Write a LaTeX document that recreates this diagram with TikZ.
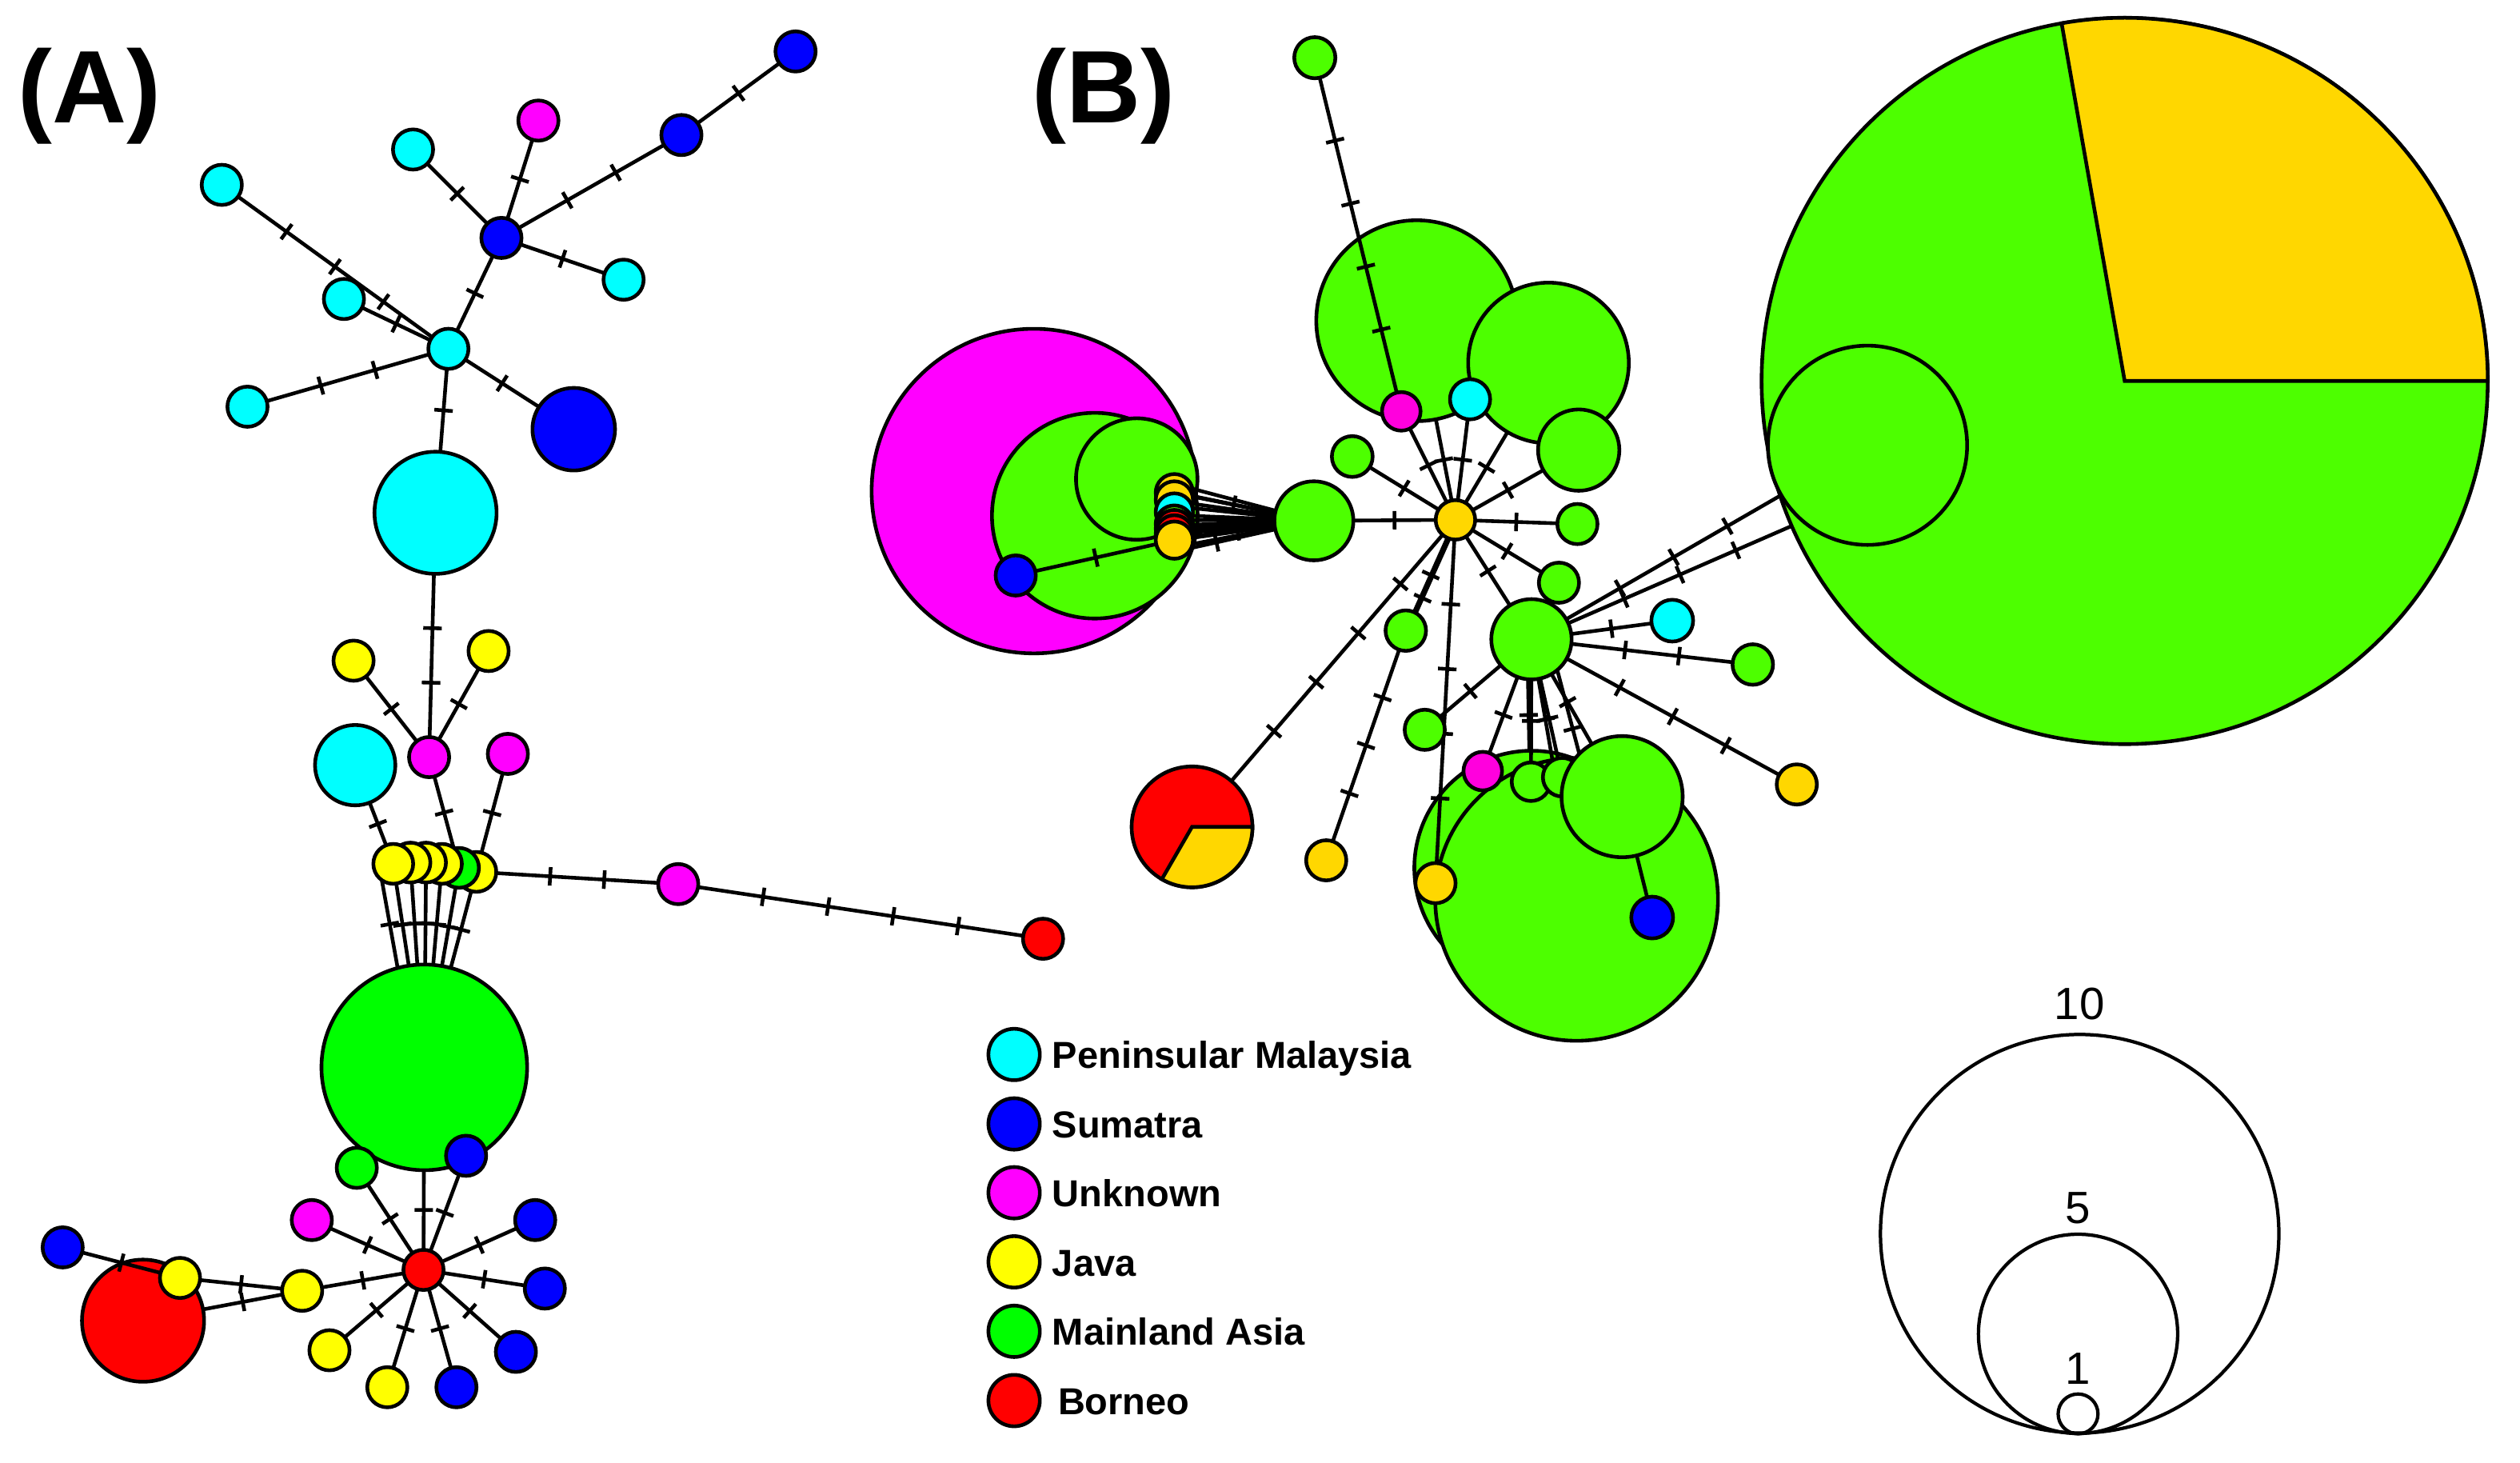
\documentclass[tikz,border=0pt]{standalone}
\usepackage{fontspec}
\setmainfont{Liberation Sans}
\usetikzlibrary{decorations.markings}

% region colours
\definecolor{pm}{HTML}{00FFFF}
\definecolor{sum}{HTML}{0000FF}
\definecolor{unk}{HTML}{FF00FF}
\definecolor{jav}{HTML}{FFFF00}
\definecolor{mla}{HTML}{00FF00}
\definecolor{bor}{HTML}{FF0000}
\definecolor{mlaB}{HTML}{4DFF00}
\definecolor{javB}{HTML}{FFD700}
\definecolor{unkB}{HTML}{FF00DD}

\pgfdeclarelayer{bg}
\pgfdeclarelayer{edges}
\pgfsetlayers{bg,edges,main}

\newcommand{\mtick}{\draw[line width=1.3pt] (0,-0.115cm) -- (0,0.115cm);}

\tikzset{
  hap/.style={circle, draw=black, line width=1.3pt, inner sep=0pt, outer sep=0pt, minimum size=#1*0.04cm},
  edge/.style={line width=1.3pt},
  onat/.style={postaction={decorate, decoration={markings, mark=at position #1 with {\mtick}}}},
  one/.style={onat=0.5},
  two/.style={postaction={decorate, decoration={markings,
      mark=at position 0.333 with {\mtick}, mark=at position 0.667 with {\mtick}}}},
  three/.style={postaction={decorate, decoration={markings,
      mark=at position 0.25 with {\mtick}, mark=at position 0.5 with {\mtick},
      mark=at position 0.75 with {\mtick}}}},
  four/.style={postaction={decorate, decoration={markings,
      mark=at position 0.2 with {\mtick}, mark=at position 0.4 with {\mtick},
      mark=at position 0.6 with {\mtick}, mark=at position 0.8 with {\mtick}}}},
  panel/.style={anchor=base west, inner sep=0pt, font=\fontsize{36.5}{40}\selectfont\bfseries},
  legtext/.style={anchor=base west, inner sep=0pt, font=\fontsize{13.3}{16}\selectfont\bfseries},
  scaletext/.style={anchor=base, inner sep=0pt, font=\fontsize{16}{19}\selectfont},
}

\begin{document}
\begin{tikzpicture}[x=0.02cm, y=-0.02cm]
    \useasboundingbox (0,0) rectangle (1568,910);

    % ---------------- Panel A ----------------
    \node[panel] (labA) at (11,76.2) {(A)};

    \begin{pgfonlayer}{bg}
        \node[hap=25.7, fill=sum] (bA3) at (357,267) {};
        \node[hap=38, fill=pm] (cBig) at (271,319) {};
        \node[hap=25, fill=pm] (cMed) at (221,476) {};
        \node[hap=64, fill=mla] (gBig) at (264,664) {};
        \node[hap=38, fill=bor] (rBig) at (89,821.6) {};
    \end{pgfonlayer}

    \node[hap=12.5, fill=sum] (bA1) at (495,32) {};
    \node[hap=12.5, fill=sum] (bA2) at (424,84) {};
    \node[hap=12.5, fill=unk] (mA1) at (335,75) {};
    \node[hap=12.5, fill=pm] (cA1) at (257,93) {};
    \node[hap=12.5, fill=pm] (cA2) at (138,115) {};
    \node[hap=12.5, fill=sum] (bHub) at (312,148) {};
    \node[hap=12.5, fill=pm] (cA3) at (388,174) {};
    \node[hap=12.5, fill=pm] (cA4) at (214,186) {};
    \node[hap=12.5, fill=pm] (cHub) at (279,217) {};
    \node[hap=12.5, fill=pm] (cA5) at (154,253) {};
    \node[hap=12.5, fill=jav] (yA1) at (220,411) {};
    \node[hap=12.5, fill=jav] (yA2) at (304,405) {};
    \node[hap=12.5, fill=unk] (mA2) at (267,471) {};
    \node[hap=12.5, fill=unk] (mA3) at (316,469) {};

    % overlapping row, drawn right to left
    \node[hap=12.4, fill=jav] (c6) at (296.4,542.4) {};
    \node[hap=12.4, fill=mla] (c5) at (285.6,539.9) {};
    \node[hap=12.4, fill=jav] (c4) at (275,537.4) {};
    \node[hap=12.4, fill=jav] (c3) at (265.1,536.6) {};
    \node[hap=12.4, fill=jav] (c2) at (255.4,536.6) {};
    \node[hap=12.4, fill=jav] (c1) at (244.7,537.4) {};

    \node[hap=12.5, fill=unk] (mA4) at (422,550) {};
    \node[hap=12.5, fill=bor] (rA1) at (649,584) {};
    \node[hap=12.5, fill=mla] (gA1) at (222,726.5) {};
    \node[hap=12.5, fill=sum] (bA4) at (290,719) {};
    \node[hap=12.5, fill=bor] (rHub) at (263.5,790) {};
    \node[hap=12.5, fill=unk] (mA5) at (194,759) {};
    \node[hap=12.5, fill=sum] (bA5) at (333,759) {};
    \node[hap=12.5, fill=sum] (bA6) at (339,801.6) {};
    \node[hap=12.5, fill=sum] (bA7) at (321,841) {};
    \node[hap=12.5, fill=sum] (bA8) at (284,863) {};
    \node[hap=12.5, fill=jav] (yA3) at (241,863) {};
    \node[hap=12.5, fill=jav] (yA4) at (205,840) {};
    \node[hap=12.5, fill=jav] (yA5) at (188,803) {};
    \node[hap=12.5, fill=jav] (yA6) at (112,795) {};
    \node[hap=12.5, fill=sum] (bA9) at (39,776) {};

    \begin{pgfonlayer}{edges}
        \draw[edge, one] (bA1) -- (bA2);
        \draw[edge, two] (bA2) -- (bHub);
        \draw[edge, one] (mA1) -- (bHub);
        \draw[edge, one] (cA1) -- (bHub);
        \draw[edge, one] (cA3) -- (bHub);
        \draw[edge, one] (bHub) -- (cHub);
        \draw[edge, three] (cA2) -- (cHub);
        \draw[edge, one] (cA4) -- (cHub);
        \draw[edge, two] (cA5) -- (cHub);
        \draw[edge, one] (cHub) -- (bA3);
        \draw[edge, one] (cHub) -- (cBig);
        \draw[edge, two] (cBig) -- (mA2);
        \draw[edge, one] (yA1) -- (mA2);
        \draw[edge, one] (yA2) -- (mA2);
        \draw[edge, one] (mA2) -- (c5);
        \draw[edge, one] (mA3) -- (c6);
        \draw[edge, one] (cMed) -- (c1);
        \draw[edge, two] (c6) -- (mA4);
        \draw[edge, four] (mA4) -- (rA1);
        % row to the large Mainland Asia haplotype
        \draw[edge, one] (c1.235) -- (gBig.105);
        \foreach \c in {c1,c2,c3,c4,c5,c6}
            \draw[edge, one] (\c) -- (gBig);
        \draw[edge, one] (gBig) -- (rHub);
        \draw[edge, one] (bA4) -- (rHub);
        \draw[edge, one] (gA1) -- (rHub);
        \draw[edge, one] (mA5) -- (rHub);
        \draw[edge, one] (bA5) -- (rHub);
        \draw[edge, one] (bA6) -- (rHub);
        \draw[edge, one] (bA7) -- (rHub);
        \draw[edge, one] (bA8) -- (rHub);
        \draw[edge, one] (yA3) -- (rHub);
        \draw[edge, one] (yA4) -- (rHub);
        \draw[edge, one] (yA5) -- (rHub);
        \draw[edge, one] (yA5) -- (yA6);
        \draw[edge, one] (yA5) -- (rBig);
        \draw[edge, one] (bA9) -- (yA6);
    \end{pgfonlayer}

    % ---------------- Panel B ----------------
    \node[panel] (labB) at (642,76.2) {(B)};

    \begin{pgfonlayer}{bg}
        \node[hap=101, fill=unk] (magBig) at (643.3,305.5) {};
        \node[hap=64, fill=mlaB] (gMid) at (681.2,320.8) {};
        \node[hap=37.8, fill=mlaB] (gSm) at (707.3,298) {};
        \node[hap=62.5, fill=mlaB] (big1) at (881.5,199.5) {};
        \node[hap=50, fill=mlaB] (big2) at (963.5,225.8) {};
        \node[hap=25.3, fill=mlaB] (g982) at (982.3,280) {};
        \node[hap=73, fill=mlaB] (back) at (953,540) {};
        \node[hap=88, fill=mlaB] (front) at (981,559.5) {};
        \node[hap=12, fill=mlaB] (g952) at (952.6,486.3) {};
        \node[hap=12, fill=mlaB] (g972) at (972,483.5) {};
        \node[hap=37.7, fill=mlaB] (big1009) at (1009.3,495.6) {};
        % large pie, Mainland Asia and Java
        \node[hap=226, fill=mlaB] (bigR) at (1322,237) {};
        \draw[line width=1.3pt, fill=javB] (bigR.center) -- ++(4.52cm,0)
            arc[start angle=0, end angle=100, radius=4.52cm] -- cycle;
        \node[hap=62, fill=mlaB] (inner) at (1162,277) {};
    \end{pgfonlayer}

    \node[hap=12.8, fill=mlaB] (gTop) at (818.1,35.9) {};
    \node[hap=12, fill=unkB] (mB1) at (871.9,255.9) {};
    \node[hap=12.5, fill=pm] (cB1) at (914.7,248.4) {};
    \node[hap=12.7, fill=mlaB] (g841) at (841.4,284) {};
    \node[hap=24.6, fill=mlaB] (g817) at (817.5,324) {};
    \node[hap=12.3, fill=javB] (hub) at (905.6,323.4) {};
    \node[hap=12.5, fill=mlaB] (g981) at (981.5,326) {};
    \node[hap=12.5, fill=mlaB] (g970) at (970,362.5) {};
    \node[hap=25, fill=mlaB] (hub2) at (952.9,397.7) {};
    \node[hap=12.6, fill=mlaB] (g874) at (874.7,392.3) {};
    \node[hap=12.5, fill=mlaB] (g885) at (886.5,454) {};
    \node[hap=13, fill=pm] (cB2) at (1040.5,386.1) {};
    \node[hap=12.6, fill=mlaB] (g1090) at (1090.6,413.4) {};
    \node[hap=12.5, fill=javB] (yB1) at (1118,488) {};
    \node[hap=12, fill=unkB] (mB2) at (922.6,479.7) {};
    \node[hap=12.5, fill=javB] (yB893) at (893.2,549.4) {};
    \node[hap=13, fill=sum] (bB) at (1028,570.8) {};
    \node[hap=12.5, fill=javB] (yB825) at (825.2,535.2) {};

    % Borneo and Java pie
    \node[hap=37.6, fill=bor] (pie) at (741.7,514.4) {};
    \draw[line width=1.3pt, fill=javB] (pie.center) -- ++(0.752cm,0)
        arc[start angle=0, end angle=-120, radius=0.752cm] -- cycle;

    % stacked haplotypes inside the Unknown circle
    \node[hap=11.6, fill=javB] (chB1) at (730.7,306.5) {};
    \node[hap=11.6, fill=javB] (chB2) at (730.7,311) {};
    \node[hap=11.6, fill=pm] (chB3) at (730.7,318.5) {};
    \node[hap=11.6, fill=mlaB] (chB4) at (730.7,326) {};
    \node[hap=11.6, fill=bor] (chB5) at (730.7,328.8) {};
    \node[hap=11.6, fill=bor] (chB6) at (730.7,332.1) {};
    \node[hap=11.6, fill=javB] (chB7) at (730.7,336) {};
    \node[hap=12.5, fill=sum] (bB2) at (632,358) {};

    \begin{pgfonlayer}{edges}
        \draw[edge, four] (gTop) -- (mB1);
        \draw[edge, one] (hub) -- (mB1);
        \draw[edge, one] (hub) -- (big1);
        \draw[edge, one] (hub) -- (cB1);
        \draw[edge, one] (hub) -- (big2);
        \draw[edge, one] (hub) -- (g982);
        \draw[edge, one] (hub) -- (g841);
        \draw[edge, one] (hub) -- (g817);
        \draw[edge, one] (hub) -- (g981);
        \draw[edge, one] (hub) -- (g970);
        \draw[edge, one] (hub) -- (hub2);
        \draw[edge, four] (hub) -- (pie);
        \draw[edge, one] (hub) -- (g874);
        \draw[edge, onat=0.8] (hub.-108) -- (g874.60);
        \draw[edge, three] (g874) -- (yB825);
        \draw[edge, four] (hub) -- (yB893);
        \draw[edge, one] (g885) -- (hub2);
        \draw[edge, one] (hub2) -- (cB2);
        \draw[edge, two] (hub2) -- (g1090);
        \draw[edge, three] (hub2) -- (yB1);
        \draw[edge, three] (hub2) -- (inner);
        \draw[edge, three] (hub2) -- (bigR);
        \draw[edge, one] (hub2) -- (mB2);
        \draw[edge, one] (hub2.-95) -- (back);
        \draw[edge, one] (hub2) -- (g952);
        \draw[edge, one] (hub2) -- (g972);
        \draw[edge, one] (hub2) -- (front);
        \draw[edge, onat=0.4] (hub2) -- (big1009);
        \draw[edge, onat=0.7] (hub2.-50) -- (big1009.135);
        \draw[edge] (big1009) -- (bB);
        % fan from the stacked haplotypes
        \foreach \i in {1,...,7}{
            \draw[edge] (chB\i.12) -- (g817);
            \draw[edge] (chB\i.-12) -- (g817);
        }
        \draw[edge, one] (chB1) -- (g817);
        \draw[edge, onat=0.55] (chB7) -- (g817);
        \draw[edge, onat=0.3] (chB7.-25) -- (g817);
        \draw[edge, one] (bB2) -- (chB7);
    \end{pgfonlayer}

    % ---------------- Legend ----------------
    \node[hap=16, fill=pm] (lgPM) at (631,656) {};
    \node[hap=16, fill=sum] (lgSum) at (631,699.2) {};
    \node[hap=16, fill=unk] (lgUnk) at (631,742) {};
    \node[hap=16, fill=jav] (lgJav) at (631,785) {};
    \node[hap=16, fill=mla] (lgMla) at (631,828.2) {};
    \node[hap=16, fill=bor] (lgBor) at (631,871.3) {};
    \node[legtext] (tPM) at (654.5,664.7) {Peninsular Malaysia};
    \node[legtext] (tSum) at (654.5,707.9) {Sumatra};
    \node[legtext] (tUnk) at (654.5,750.7) {Unknown};
    \node[legtext] (tJav) at (654.5,793.7) {Java};
    \node[legtext] (tMla) at (654.5,836.9) {Mainland Asia};
    \node[legtext] (tBor) at (658,880) {Borneo};

    % ---------------- Size scale ----------------
    \node[hap=124, line width=1.2pt] (sc10) at (1294,767.5) {};
    \node[hap=62, line width=1.2pt] (sc5) at (1293,829.8) {};
    \node[hap=12.4, line width=1.2pt] (sc1) at (1293,879.6) {};
    \node[scaletext] (t10) at (1294,634.3) {10};
    \node[scaletext] (t5) at (1293,761) {5};
    \node[scaletext] (t1) at (1293,861) {1};

\end{tikzpicture}
\end{document}
